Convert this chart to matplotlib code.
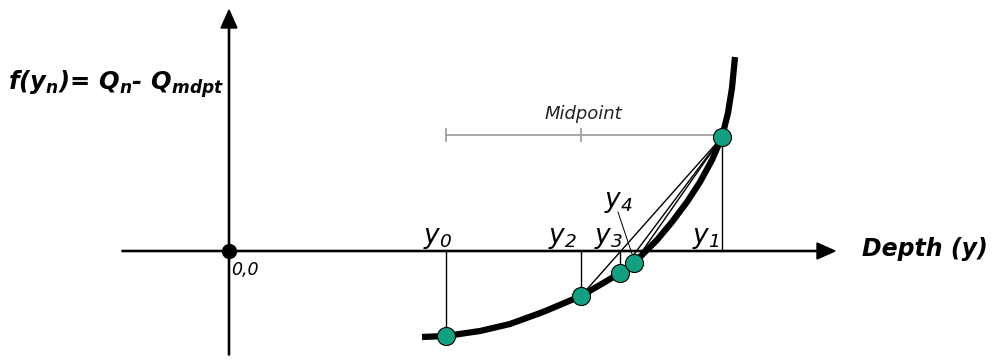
import matplotlib.pyplot as plt

plt.rcParams['mathtext.fontset'] = 'custom'
plt.rcParams['mathtext.rm'] = 'DejaVu Sans:italic'
plt.rcParams['mathtext.it'] = 'DejaVu Sans:italic'
plt.rcParams['mathtext.bf'] = 'DejaVu Sans:bold:italic'

# courbe f(y) (origine au point 0,0)
curve_depth = [193, 217, 251, 281, 314, 352, 376, 391, 405, 416, 428, 443, 458, 471, 483, 493, 499, 503, 506]
curve_f = [-86, -85, -80, -73, -61, -45, -31, -22, -12, -1, 11, 29, 49, 69, 91, 114, 138, 163, 194]

# iterations de la methode de la secante
iter_names = ['y_0', 'y_1', 'y_2', 'y_3', 'y_4']
iter_depth = [217, 493, 352, 391, 405]
iter_f = [-85, 114, -45, -22, -12]

# barre "Midpoint"
mid_ticks = [217, 352, 493]
mid_level = 116

vert = '#13a082'

fig = plt.figure(figsize=(9.93, 3.6), dpi=100)
ax = fig.add_axes([0, 0, 1, 1])
ax.set_xlim(-229, 764)
ax.set_ylim(-109, 251)
ax.axis('off')

# axes avec fleches
ax.arrow(-107, 0, 713, 0, width=1.2, head_width=16, head_length=18,
         length_includes_head=True, color='black', zorder=2)
ax.arrow(0, -104, 0, 345, width=1.2, head_width=16, head_length=18,
         length_includes_head=True, color='black', zorder=2)
ax.plot([0], [0], 'o', color='black', markersize=10, zorder=5)

# lignes verticales vers l'axe
for i in [0, 1, 2, 3]:
    ax.plot([iter_depth[i], iter_depth[i]], [0, iter_f[i]], color='black', lw=1.0, zorder=3)

# secantes depuis y1
for i in [2, 3, 4]:
    ax.plot([iter_depth[1], iter_depth[i]], [iter_f[1], iter_f[i]], color='black', lw=1.0, zorder=3)

# trait de rappel pour y4
ax.plot([389, 404], [39, -6], color='black', lw=0.7, zorder=3)

# courbe
ax.plot(curve_depth, curve_f, color='black', lw=4.5, solid_joinstyle='round',
        solid_capstyle='butt', zorder=4)

ax.plot(iter_depth, iter_f, 'o', color=vert, markeredgecolor='black',
        markeredgewidth=0.8, markersize=13, zorder=6)

# barre midpoint
ax.plot([mid_ticks[0], mid_ticks[-1]], [mid_level, mid_level], color='#a0a0a0', lw=1.3, zorder=2)
for t in mid_ticks:
    ax.plot([t, t], [mid_level - 6, mid_level + 6], color='#a0a0a0', lw=1.3, zorder=2)
ax.text(354, 132, 'Midpoint', fontsize=13, style='italic', color='#222222',
        ha='center', va='baseline')

# etiquettes
lab_pos = {'y_0': (209, 8), 'y_1': (477, 8), 'y_2': (333, 8), 'y_3': (379, 8), 'y_4': (389, 44)}
for n in iter_names:
    x, y = lab_pos[n]
    ax.text(x, y, r'$\mathit{' + n + '}$', fontsize=19, ha='center', va='baseline')

ax.text(2, -24, '0,0', fontsize=12.5, style='italic', ha='left', va='baseline')
ax.text(633, -5, 'Depth (y)', fontsize=17, style='italic', weight='bold',
        ha='left', va='baseline')
ax.text(-221, 161, r'$\mathbf{f(y_n)}$= $\mathbf{Q_n}$- $\mathbf{Q_{mdpt}}$',
        fontsize=17.5, style='italic', weight='bold', ha='left', va='baseline')

plt.savefig('out.png', dpi=100)
